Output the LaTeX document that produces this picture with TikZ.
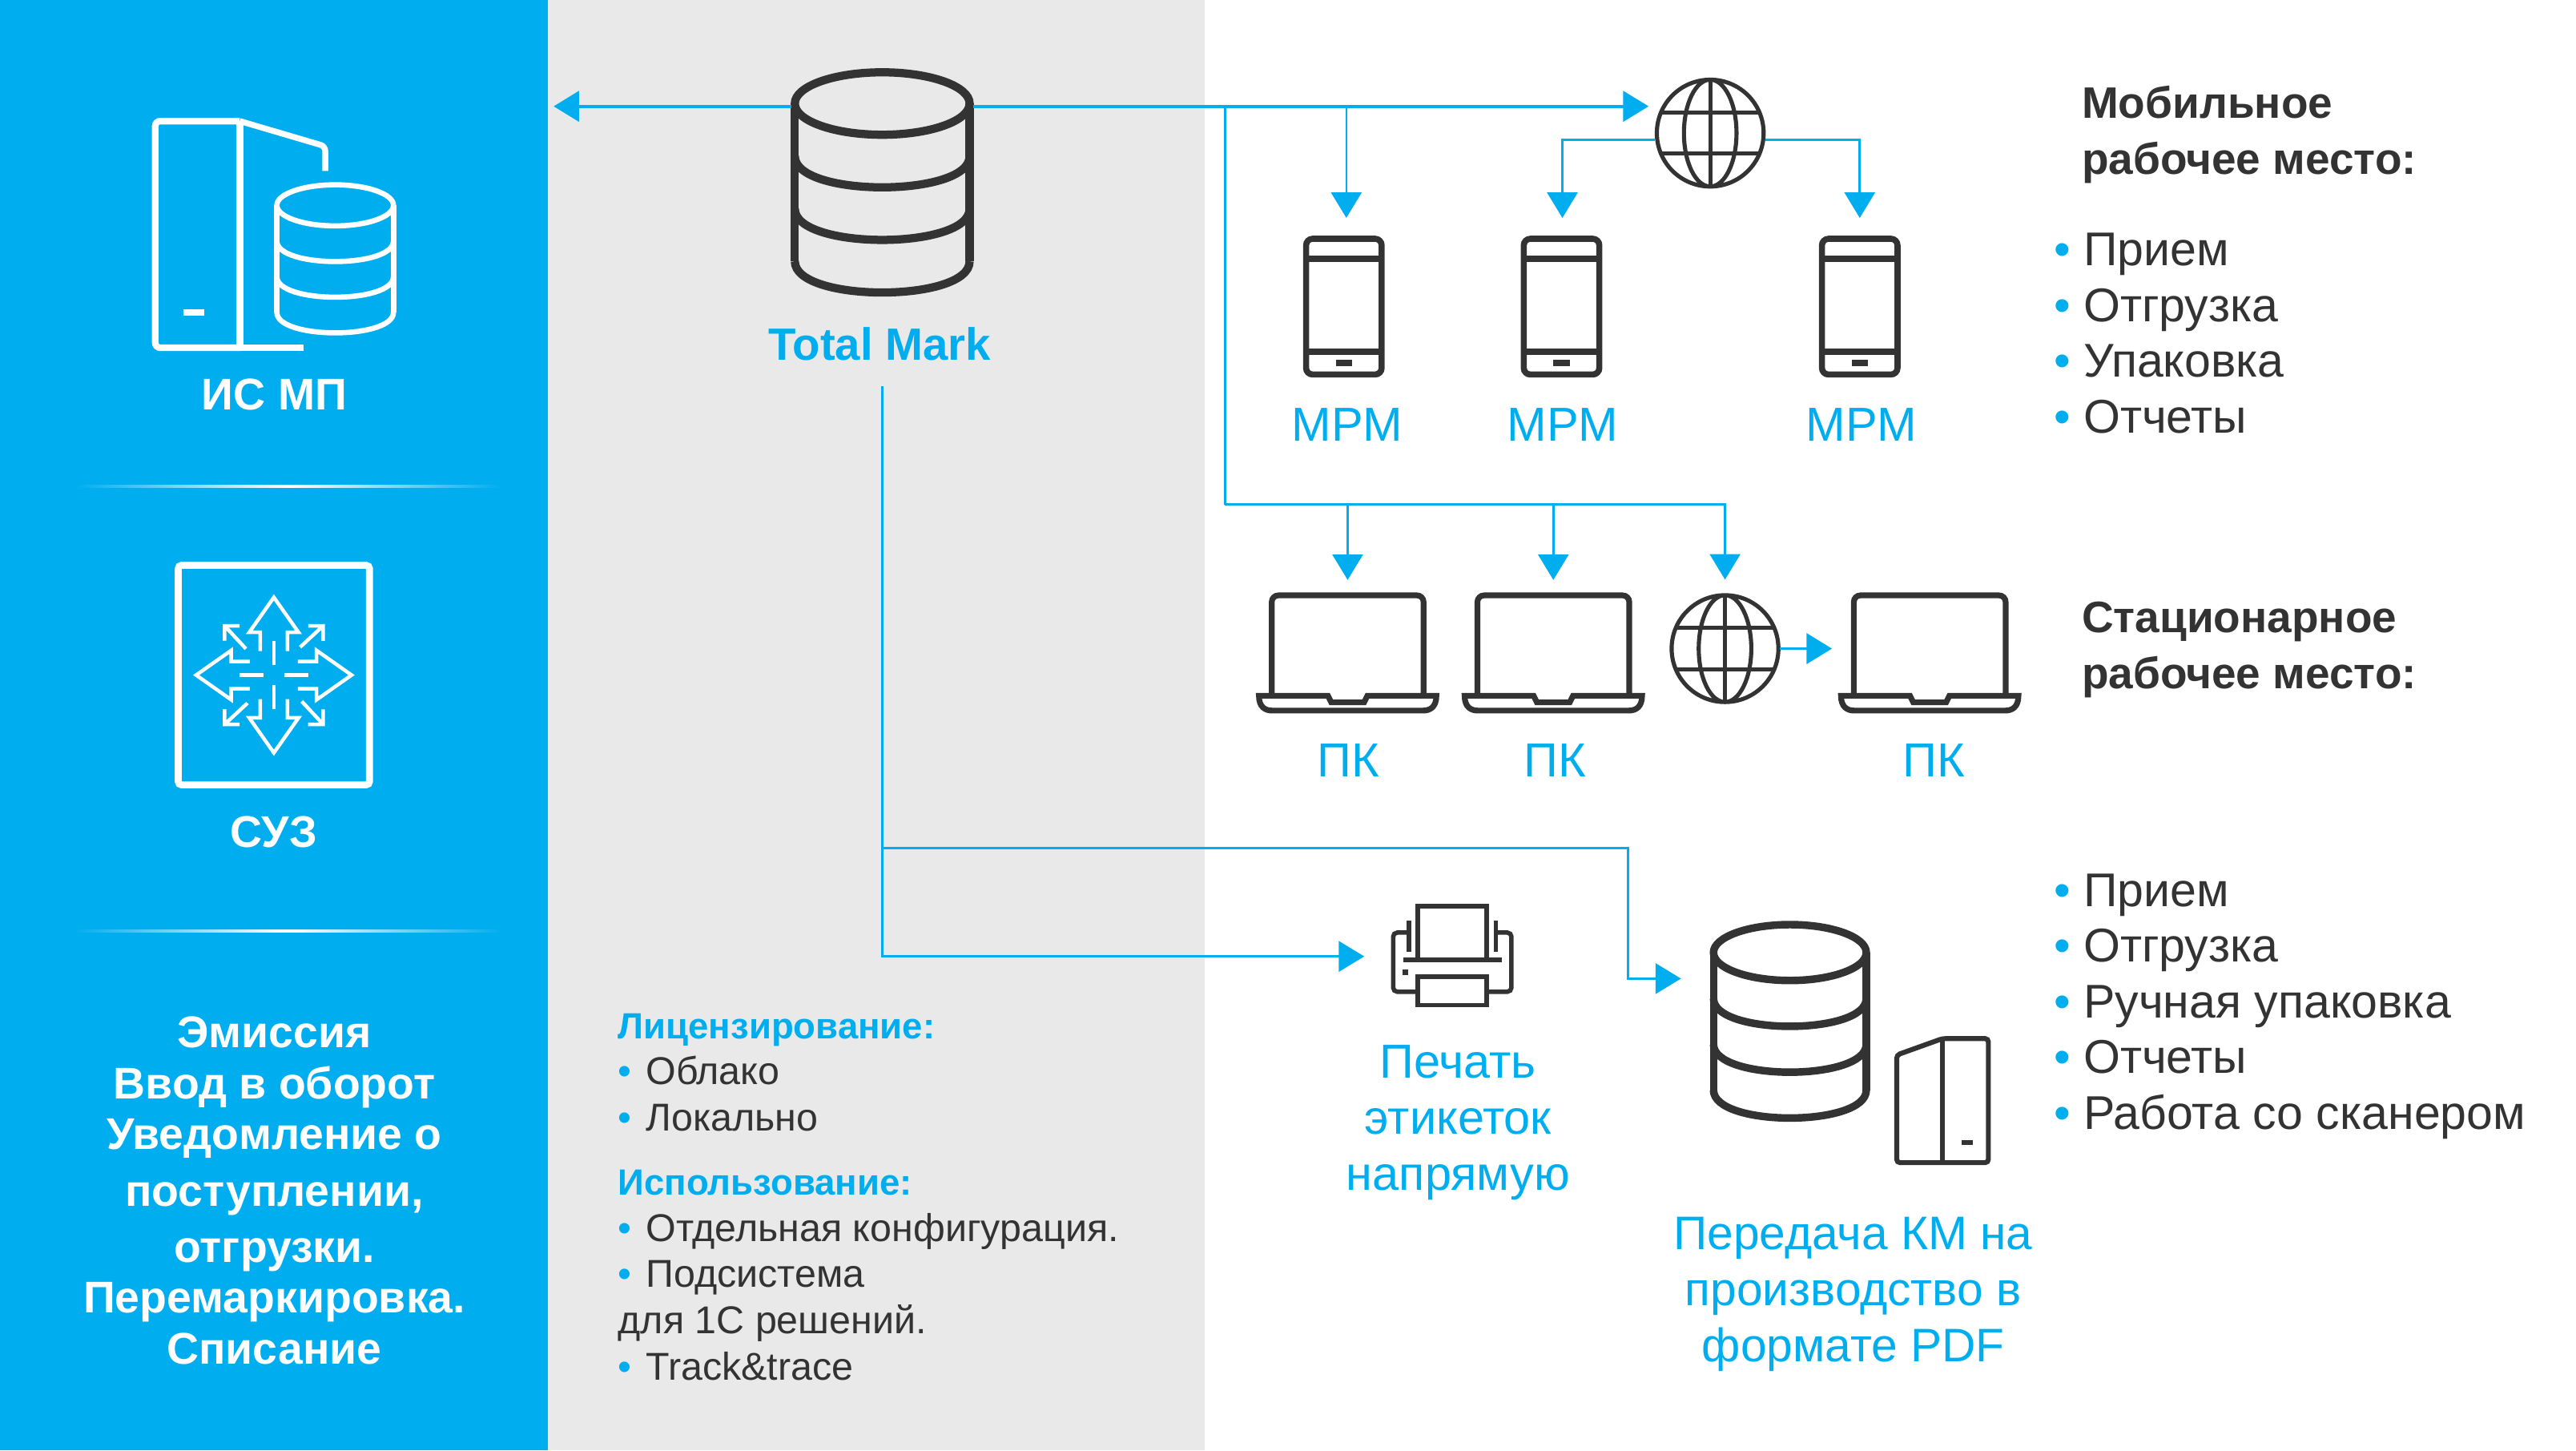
\documentclass[tikz,border=0pt]{standalone}
\usepackage{fontspec}
\setmainfont{Liberation Sans}
\usetikzlibrary{positioning, calc}
\usetikzlibrary{arrows.meta}
\newcommand{\dotitem}[2][18pt]{\makebox[#1][l]{\textcolor{tmblue}{\textbullet}}#2}
\newcommand{\smallhead}[1]{\textcolor{tmblue}{\bfseries\fontsize{22.2}{28}\selectfont #1}}

\begin{document}
\begin{tikzpicture}
    [x=1pt, y=-1pt,
    post/.style={-{Triangle[length=15.5pt,width=18.5pt]},draw=tmblue,line width=1.3pt,shorten >=#1},
    post/.default=0pt,
    busline/.style={line width=1.8pt},
    iconbox/.style={rectangle,inner sep=0pt,outer sep=0pt},
    lbl/.style={inner sep=0pt,align=center,text=tmblue,font=\fontsize{29}{34}\selectfont},
    panellbl/.style={inner sep=0pt,align=center,text=white,font=\bfseries\fontsize{27}{31}\selectfont},
    headtext/.style={inner sep=0pt,align=left,anchor=north west,text=tmdark,font=\bfseries\fontsize{26.8}{34}\selectfont},
    listtext/.style={inner sep=0pt,align=left,anchor=north west,text=tmdark,font=\fontsize{28.8}{33.9}\selectfont},
    smalltext/.style={inner sep=0pt,align=left,anchor=north west,text=tmdark,font=\fontsize{23.6}{28.1}\selectfont},
    glow/.style={left color=tmblue,right color=tmblue,middle color=white},
    pics/dbstack/.style args={#1/#2/#3/#4/#5}{code={
        \pgfmathsetmacro{\topy}{-1.5*#3}
        \draw[line width=#4,draw=#5] (0,\topy) ellipse (#1pt and #2pt);
        \draw[line width=#4,draw=#5] (-#1,\topy) -- (-#1,\topy+3*#3) (#1,\topy) -- (#1,\topy+3*#3);
        \foreach \k in {1,2,3} {
            \draw[line width=#4,draw=#5] (-#1,\topy+\k*#3) .. controls (-#1,\topy+\k*#3+1.333*#2) and (#1,\topy+\k*#3+1.333*#2) .. (#1,\topy+\k*#3);
        }
    }},
    pics/phone/.style={code={
        \draw[line width=3.7pt,draw=tmdark,rounded corners=4pt] (-23,-41.3) rectangle (23,41.3);
        \draw[line width=3.7pt,draw=tmdark] (-23,-29) -- (23,-29) (-23,27.4) -- (23,27.4) (-5,34.4) -- (5,34.4);
    }},
    pics/laptop/.style={code={
        \draw[line width=3.5pt,draw=tmdark,rounded corners=4pt] (-46.2,26) -- (-46.2,-35.1) -- (46.2,-35.1) -- (46.2,26);
        \draw[line width=3.5pt,draw=tmdark] (-54,26) -- (-12,26) -- (-10,30) -- (10,30) -- (12,26) -- (54,26) .. controls (54,33) and (50,35) .. (46,35) -- (-46,35) .. controls (-50,35) and (-54,33) .. (-54,26) -- cycle;
    }},
    pics/globe/.style={code={
        \draw[line width=2.5pt,draw=tmdark] (0,0) circle (32.5pt) (0,0) ellipse (16pt and 32.5pt);
        \draw[line width=2.5pt,draw=tmdark] (0,-32.5) -- (0,32.5) (-30,-12.5) -- (30,-12.5) (-30,12.5) -- (30,12.5);
    }},
    pics/printer/.style={code={
        \draw[line width=2.7pt,draw=tmdark,rounded corners=2.5pt] (-26,-14.5) -- (-36,-14.5) -- (-36,21.5) -- (-21,21.5);
        \draw[line width=2.7pt,draw=tmdark,rounded corners=2.5pt] (26,-14.5) -- (36,-14.5) -- (36,21.5) -- (21,21.5);
        \draw[line width=2.7pt,draw=tmdark] (-26.4,-21.6) -- (-26.4,-2.7) (26.4,-21.6) -- (26.4,-2.7);
        \draw[line width=2.7pt,draw=tmdark] (-21,1) -- (-21,-30.7) -- (21,-30.7) -- (21,1);
        \draw[line width=3.2pt,draw=tmdark] (-30,2.1) -- (30,2.1) (-28.5,8) -- (-28.5,11.4);
        \draw[line width=2.7pt,draw=tmdark] (-21,12.4) rectangle (21,29.7);
    }},
    pics/suzstar/.style={code={
        \foreach \a in {0,90,180,270} {
            \begin{scope}[rotate=\a,line width=2.2pt,draw=white]
                \draw (-8.3,-14.6) -- (-8.3,-26) -- (-15,-26) -- (0,-47.3) -- (15,-26) -- (8.3,-26) -- (8.3,-14.6);
                \draw (0,-20.8) -- (0,-6.2);
                \draw (20.9,-30) -- (30,-30) -- (30,-20.8) (30,-30) -- (16,-17);
            \end{scope}
        }
    }}]
    \definecolor{tmblue}{RGB}{0,173,239};
    \definecolor{tmgray}{RGB}{233,233,233};
    \definecolor{tmdark}{RGB}{51,51,51};
    \useasboundingbox (0,0) rectangle (1568,882.5);
    \fill[tmblue] (0,0) rectangle (333.5,882.5);
    \fill[tmgray] (333.5,0) rectangle (733.5,882.5);
    \shade[glow] (46,295) rectangle (305,296.6);
    \shade[glow] (45,565.8) rectangle (305,567.4);

    \node [iconbox,minimum width=111,minimum height=138] (tmdb) at (537,111) {};
    \node [iconbox,minimum width=49,minimum height=86] (phoneA) at (818,186.6) {};
    \node [iconbox,minimum width=49,minimum height=86] (phoneB) at (950.5,186.6) {};
    \node [iconbox,minimum width=49,minimum height=86] (phoneC) at (1132,186.6) {};
    \node [iconbox,minimum width=67,minimum height=67] (globeA) at (1041,81) {};
    \node [iconbox,minimum width=67,minimum height=68] (globeB) at (1050,394.7) {};
    \node [iconbox,minimum width=111,minimum height=73] (laptopA) at (820.3,397.4) {};
    \node [iconbox,minimum width=111,minimum height=73] (laptopB) at (945.5,397.4) {};
    \node [iconbox,minimum width=111,minimum height=73] (laptopC) at (1174.6,397.4) {};
    \node [iconbox,minimum width=74,minimum height=61] (printer) at (884,582) {};
    \node [iconbox,minimum width=96.6,minimum height=120] (dbout) at (1089.5,621.5) {};
    \node [iconbox,draw=white,line width=4.2pt,rounded corners=2pt,minimum width=116.4,minimum height=133.6] (suz) at (166.7,410.8) {};

    \pic at (tmdb) {dbstack=53.2/19/32/5pt/tmdark};
    \pic at (phoneA) {phone};
    \pic at (phoneB) {phone};
    \pic at (phoneC) {phone};
    \pic at (globeA) {globe};
    \pic at (globeB) {globe};
    \pic at (laptopA) {laptop};
    \pic at (laptopB) {laptop};
    \pic at (laptopC) {laptop};
    \pic at (printer) {printer};
    \pic at (dbout) {dbstack=46.5/17/27.9/4.6pt/tmdark};
    \pic at (suz) {suzstar};

    \draw[draw=white,line width=4pt,rounded corners=3pt] (146,73.7) -- (94.5,73.7) -- (94.5,211.6) -- (146,211.6);
    \draw[draw=white,line width=4pt] (146,211.6) -- (184.6,211.6) (146,73.7) -- (146,211.6) (111.5,190) -- (124.5,190);
    \draw[draw=white,line width=3.6pt,rounded corners=3pt] (146,73.7) -- (198,89) -- (198,104);
    \node [iconbox,minimum width=73,minimum height=91] (dbsmall) at (204,157.5) {};
    \pic at (dbsmall) {dbstack=35.5/12.5/21.7/3.2pt/white};
    \draw[draw=tmdark,line width=3pt,rounded corners=2pt] (1182.4,632) -- (1154.5,642) -- (1154.5,707.5) -- (1210.3,707.5) -- (1210.3,632) -- cycle;
    \draw[draw=tmdark,line width=3pt] (1182.4,632) -- (1182.4,707.5) (1194,695.3) -- (1201,695.3);

    \node [panellbl,anchor=north] (ismplabel) at (167,230.5) {ИС МП};
    \node [panellbl,below=19pt of suz] (suzlabel) {СУЗ};
    \node [panellbl,anchor=north] (taskslabel) at (167,618.5) {Эмиссия\\Ввод в оборот\\Уведомление о\\[3.5pt]поступлении,\\[3pt]отгрузки.\\Перемаркировка.\\Списание};
    \node [lbl,font=\bfseries\fontsize{27.5}{34}\selectfont,below=19pt of tmdb,xshift=-1.5pt] (tmlabel) {Total Mark};
    \node [lbl,below=18.5pt of phoneA,xshift=2pt] (mpmA) {МРМ};
    \node [lbl,below=18.5pt of phoneB,xshift=.5pt] (mpmB) {МРМ};
    \node [lbl,below=18.5pt of phoneC,xshift=1pt] (mpmC) {МРМ};
    \node [lbl,below=18.5pt of laptopA,xshift=.5pt] (pcA) {ПК};
    \node [lbl,below=18.5pt of laptopB,xshift=1pt] (pcB) {ПК};
    \node [lbl,below=18.5pt of laptopC,xshift=2.5pt] (pcC) {ПК};
    \node [lbl,below=23.5pt of printer,xshift=3.5pt] (printlabel) {Печать\\этикеток\\напрямую};
    \node [lbl,font=\fontsize{28.6}{34}\selectfont,anchor=north] (pdflabel) at (1128,740.5) {Передача КМ на\\производство в\\формате PDF};

    \node [headtext] (mobilehead) at (1267,52) {Мобильное\\рабочее место:};
    \node [listtext] (mobilelist) at (1250,141.8) {\dotitem{Прием}\\\dotitem{Отгрузка}\\\dotitem{Упаковка}\\\dotitem{Отчеты}};
    \node [headtext] (deskhead) at (1267,366) {Стационарное\\рабочее место:};
    \node [listtext] (desklist) at (1250,531.5) {\dotitem{Прием}\\\dotitem{Отгрузка}\\\dotitem{Ручная упаковка}\\\dotitem{Отчеты}\\\dotitem{Работа со сканером}};
    \node [smalltext] (licence) at (376,616.5) {\smallhead{Лицензирование:}\\\dotitem[17pt]{Облако}\\\dotitem[17pt]{Локально}\\[11pt]\smallhead{Использование:}\\\dotitem[17pt]{Отдельная конфигурация.}\\\dotitem[17pt]{Подсистема}\\для 1С решений.\\\dotitem[17pt]{Track\&trace}};

    \coordinate (bus) at (745.7,64.7);
    \coordinate (bar) at (745.7,307);
    \coordinate (gate) at (337,64.7);
    \coordinate (trunk) at (537,235);
    \coordinate (kmbend) at (991,516);

    \draw[post,busline] (tmdb.north west |- bus) -- (gate);
    \draw[post=4pt,busline] (tmdb.north east |- bus) -- (globeA.west |- bus);
    \draw[post=11pt] ([xshift=1.5pt]phoneA.north |- bus) -- ([xshift=1.5pt]phoneA.north);
    \draw[post=11pt] ([yshift=-4pt]globeA.west) -| ([xshift=.5pt]phoneB.north);
    \draw[post=11pt] ([yshift=-4pt]globeA.east) -| (phoneC.north);
    \draw[draw=tmblue,line width=1.4pt] (bus) -- (bar);
    \draw[post=8pt] (bar) -| (globeB.north);
    \draw[post=8pt] (laptopA.north |- bar) -- (laptopA.north);
    \draw[post=8pt] (laptopB.north |- bar) -- (laptopB.north);
    \draw[post=4pt,busline] (globeB.east) -- (laptopC.west |- globeB.east);
    \draw[post=16.6pt] (trunk) |- (printer.west);
    \draw[post=18pt] (trunk |- kmbend) -- (kmbend) |- ([yshift=26pt]dbout.west);
\end{tikzpicture}
\end{document}
